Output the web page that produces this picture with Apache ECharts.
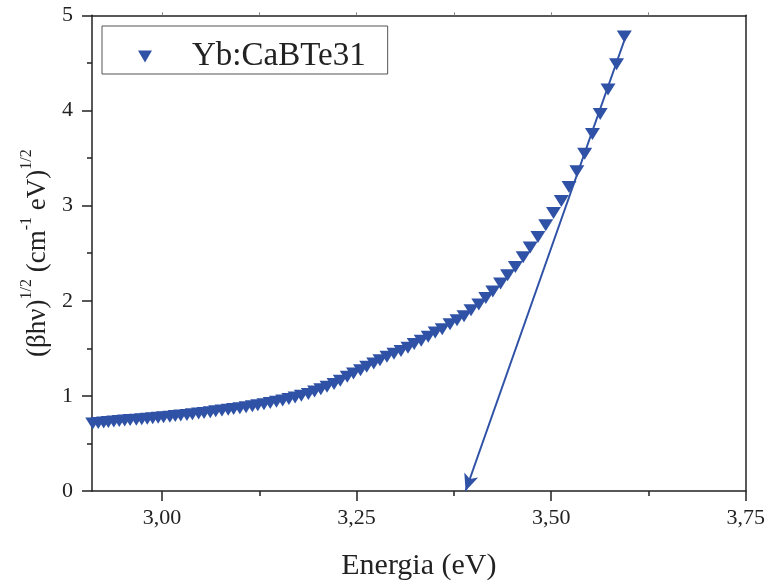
<!DOCTYPE html>
<html>
<head>
<meta charset="utf-8">
<script src="https://cdn.jsdelivr.net/npm/echarts@6/dist/echarts.min.js"></script>
<style>html,body{margin:0;padding:0;background:#fff;}#c{width:768px;height:586px;}</style>
</head>
<body>
<div id="c"></div>
<script>
// ---- data ----
const seriesName = 'Yb:CaBTe31';
const energy = [
  2.911, 2.918, 2.925, 2.931, 2.938, 2.945, 2.952, 2.959, 2.967, 2.974,
  2.981, 2.988, 2.995, 3.002, 3.010, 3.017, 3.024, 3.032, 3.039, 3.047,
  3.054, 3.062, 3.069, 3.077, 3.085, 3.092, 3.100, 3.108, 3.116, 3.123,
  3.131, 3.139, 3.147, 3.155, 3.163, 3.171, 3.179, 3.188, 3.196, 3.204,
  3.212, 3.221, 3.229, 3.238, 3.246, 3.255, 3.263, 3.272, 3.280, 3.289,
  3.298, 3.307, 3.316, 3.324, 3.333, 3.342, 3.351, 3.360, 3.370, 3.379,
  3.388, 3.397, 3.407, 3.416, 3.425, 3.435, 3.444, 3.454, 3.464, 3.473,
  3.483, 3.493, 3.503, 3.513, 3.523, 3.533, 3.543, 3.553, 3.563, 3.573,
  3.584, 3.594
];
const tauc = [
  0.710, 0.715, 0.720, 0.725, 0.730, 0.735, 0.740, 0.745, 0.750, 0.755,
  0.760, 0.765, 0.770, 0.775, 0.781, 0.787, 0.793, 0.800, 0.807, 0.814,
  0.821, 0.829, 0.837, 0.845, 0.853, 0.862, 0.871, 0.880, 0.890, 0.900,
  0.912, 0.925, 0.938, 0.952, 0.967, 0.983, 1.000, 1.020, 1.045, 1.070,
  1.095, 1.125, 1.160, 1.200, 1.235, 1.270, 1.305, 1.340, 1.375, 1.410,
  1.443, 1.471, 1.505, 1.546, 1.580, 1.622, 1.667, 1.701, 1.753, 1.794,
  1.838, 1.900, 1.959, 2.028, 2.096, 2.182, 2.268, 2.354, 2.457, 2.560,
  2.670, 2.794, 2.921, 3.048, 3.196, 3.361, 3.546, 3.753, 3.962, 4.220,
  4.485, 4.776
];
const fitX = [3.390, 3.598];
const fitY = [0.0, 4.83];
const xTickValues = [3.00, 3.25, 3.50, 3.75];
const xTickLabels = ['3,00', '3,25', '3,50', '3,75'];
const xMinorValues = [3.125, 3.375, 3.625];
const yTickLabels = ['0', '1', '2', '3', '4', '5'];

// ---- chart ----
const BLUE = '#2f52a6';
const AX = '#222';
const FONT = '"Liberation Serif", "Times New Roman", serif';
const chart = echarts.init(document.getElementById('c'), null, {renderer: 'canvas'});
const pts = energy.map((e, i) => [e, tauc[i]]);
const xMin = 2.91, xMax = 3.75;

chart.setOption({
  animation: false,
  backgroundColor: '#fff',
  textStyle: {fontFamily: FONT},
  grid: {left: 92, right: 19, top: 15.3, bottom: 85.7, containLabel: false},
  legend: {
    show: true,
    left: 102, top: 26,
    orient: 'horizontal',
    padding: [13, 22, 0, 36],
    borderColor: '#555', borderWidth: 1,
    itemWidth: 14, itemHeight: 12,
    icon: 'path://M0,0 L14,0 L7,12 Z',
    textStyle: {fontFamily: FONT, fontSize: 33, color: '#222', lineHeight: 35, padding: [0, 0, 0, 35]},
    data: [seriesName]
  },
  xAxis: [
    {
      type: 'value', min: xMin, max: xMax, position: 'bottom',
      name: 'Energia (eV)', nameLocation: 'middle', nameGap: 60,
      nameTextStyle: {fontFamily: FONT, fontSize: 30, color: '#222'},
      axisLine: {show: true, onZero: false, lineStyle: {color: AX, width: 1.5}},
      axisTick: {show: true, inside: false, length: 10, customValues: xTickValues, lineStyle: {color: AX, width: 1.5}},
      axisLabel: {show: true, margin: 16, fontFamily: FONT, fontSize: 22, color: '#222', customValues: xTickValues,
        formatter: v => xTickLabels[xTickValues.findIndex(t => Math.abs(t - v) < 1e-6)] || ''},
      splitLine: {show: false}
    },
    {
      type: 'value', min: xMin, max: xMax, position: 'bottom', gridIndex: 0,
      axisLine: {show: false, onZero: false},
      axisTick: {show: true, inside: false, length: 5, customValues: xMinorValues, lineStyle: {color: AX, width: 1.5}},
      axisLabel: {show: false, customValues: xMinorValues},
      splitLine: {show: false}
    },
    {
      type: 'value', min: xMin, max: xMax, position: 'top', gridIndex: 0,
      axisLine: {show: true, onZero: false, lineStyle: {color: AX, width: 1.5}},
      axisTick: {show: true, inside: false, length: 3, customValues: [3.00, 3.125, 3.25, 3.375, 3.5, 3.625], lineStyle: {color: '#888', width: 1}},
      axisLabel: {show: false, customValues: [3.00]},
      splitLine: {show: false}
    }
  ],
  yAxis: [
    {
      type: 'value', min: 0, max: 5, interval: 1, position: 'left',
      name: '{t|(βhν)}{s|1/2}{t| (cm}{s|-1}{t| eV)}{s|1/2}',
      nameLocation: 'middle', nameGap: 30, nameRotate: 90,
      nameTextStyle: {
        fontFamily: FONT, color: '#222',
        rich: {
          t: {fontFamily: FONT, fontSize: 27, color: '#222', lineHeight: 32, verticalAlign: 'bottom'},
          s: {fontFamily: FONT, fontSize: 16, color: '#222', lineHeight: 19, verticalAlign: 'top'}
        }
      },
      axisLine: {show: true, onZero: false, lineStyle: {color: AX, width: 1.5}},
      axisTick: {show: true, inside: false, length: 10, lineStyle: {color: AX, width: 1.5}},
      minorTick: {show: true, splitNumber: 2, length: 5, lineStyle: {color: AX, width: 1.5}},
      axisLabel: {show: true, margin: 19, fontFamily: FONT, fontSize: 22, color: '#222',
        formatter: v => yTickLabels[Math.round(v)]},
      splitLine: {show: false}, minorSplitLine: {show: false}
    },
    {
      type: 'value', min: 0, max: 5, interval: 1, position: 'right',
      axisLine: {show: true, onZero: false, lineStyle: {color: AX, width: 1.5}},
      axisTick: {show: false}, axisLabel: {show: false}, splitLine: {show: false}
    }
  ],
  series: [
    {
      name: seriesName,
      type: 'scatter',
      xAxisIndex: 0, yAxisIndex: 0,
      symbol: 'triangle', symbolRotate: 180, symbolSize: [15, 12],
      itemStyle: {color: BLUE, opacity: 1},
      data: pts,
      z: 3
    },
    {
      name: 'fit',
      type: 'line',
      xAxisIndex: 0, yAxisIndex: 0,
      data: fitX.map((x, i) => [x, fitY[i]]),
      showSymbol: false, symbol: 'none', clip: false,
      lineStyle: {color: BLUE, width: 2, opacity: 0},
      markLine: {
        silent: true, animation: false,
        symbol: ['arrow', 'none'], symbolSize: [11, 17],
        label: {show: false},
        lineStyle: {color: BLUE, width: 2, type: 'solid'},
        data: [[{coord: [fitX[0], fitY[0]]}, {coord: [fitX[1], fitY[1]]}]]
      },
      z: 4
    }
  ]
});
</script>
</body>
</html>
